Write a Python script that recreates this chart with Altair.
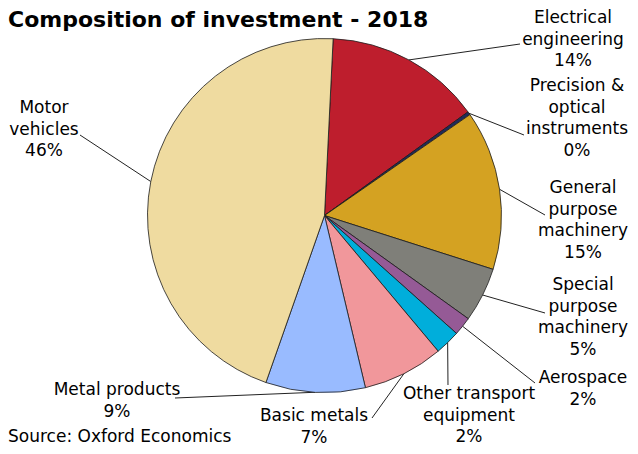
import math
import altair as alt
import numpy as np
import pandas as pd

# ---------------- data ----------------
categories = [
    "Electrical engineering",
    "Precision & optical instruments",
    "General purpose machinery",
    "Special purpose machinery",
    "Aerospace",
    "Other transport equipment",
    "Basic metals",
    "Metal products",
    "Motor vehicles",
]
shares = [14.3, 0.3, 14.6, 5.0, 1.7, 2.3, 7.4, 9.1, 45.5]
pct_labels = ["14%", "0%", "15%", "5%", "2%", "2%", "7%", "9%", "46%"]
label_lines = [
    ["Electrical", "engineering"],
    ["Precision &", "optical", "instruments"],
    ["General", "purpose", "machinery"],
    ["Special", "purpose", "machinery"],
    ["Aerospace"],
    ["Other transport", "equipment"],
    ["Basic metals"],
    ["Metal products"],
    ["Motor", "vehicles"],
]
title_text = "Composition of investment - 2018"
source_text = "Source: Oxford Economics"

# ---------------- styles / layout ----------------
palette = ["#BE1E2D", "#1F2A5C", "#D4A222", "#7F7F79", "#955A96",
           "#00AEDB", "#F1979B", "#99BBFF", "#EFDBA0"]
W, H, M = 638, 454, 8
PW, PH = 622, 438          # plot area size (page x 8..630, y 8..446)
CX, CY, R = 324.5, 215.5, 177
START_DEG = 2.8
LH = 21.5
FONT = "DejaVu Sans"
# label block: centre x, first-line centre y (page px)
label_pos = [(573, 18), (577, 86), (583, 188), (583, 285), (583, 378),
             (469, 394), (314, 416), (117, 390), (44, 108)]
# leader line end near the label (page px)
leader_end = [(520, 44), (524, 135), (545, 215), (545, 313), (535, 383),
              (448, 385), (372, 418), (175, 398), (80, 135)]

# ---------------- derived tables ----------------
vals = np.array(shares, dtype=float)
cum = np.concatenate([[0], np.cumsum(vals)]) / vals.sum() * 360 + START_DEG
mid = (cum[:-1] + cum[1:]) / 2

pie_df = pd.DataFrame({"cat": categories, "share": shares, "idx": range(len(shares))})

rows = []
for i, lines in enumerate(label_lines):
    allines = lines + [pct_labels[i]]
    x0, y0 = label_pos[i]
    for j, t in enumerate(allines):
        rows.append({"x": x0, "y": y0 + j * LH, "t": t})
text_df = pd.DataFrame(rows)

lead_rows = []
for i in range(len(categories)):
    a = math.radians(mid[i])
    lead_rows.append({
        "x": CX + R * math.sin(a), "y": CY - R * math.cos(a),
        "x2": leader_end[i][0], "y2": leader_end[i][1],
    })
lead_df = pd.DataFrame(lead_rows)

xs = alt.Scale(domain=[M, M + PW], nice=False, zero=False)
ys = alt.Scale(domain=[M, M + PH], nice=False, zero=False, reverse=True)

start = math.radians(START_DEG)
pie = alt.Chart(pie_df).mark_arc(
    outerRadius=R, stroke="#1a1a1a", strokeWidth=0.8
).encode(
    theta=alt.Theta("share:Q", stack=True,
                    scale=alt.Scale(range=[start, start + 2 * math.pi])),
    color=alt.Color("cat:N", scale=alt.Scale(domain=categories, range=palette),
                    legend=None),
    order=alt.Order("idx:Q"),
    x=alt.value(CX - M),
    y=alt.value(CY - M),
)

leaders = alt.Chart(lead_df).mark_rule(color="#222222", strokeWidth=1).encode(
    x=alt.X("x:Q", scale=xs, axis=None),
    y=alt.Y("y:Q", scale=ys, axis=None),
    x2="x2:Q",
    y2="y2:Q",
)

labels = alt.Chart(text_df).mark_text(
    font=FONT, fontSize=17, align="center", baseline="middle", color="#000000"
).encode(
    x=alt.X("x:Q", scale=xs, axis=None),
    y=alt.Y("y:Q", scale=ys, axis=None),
    text="t:N",
)

title = alt.Chart(pd.DataFrame({"x": [8], "y": [26.5], "t": [title_text]})).mark_text(
    font=FONT, fontSize=22, fontWeight="bold", align="left",
    baseline="alphabetic", color="#000000"
).encode(
    x=alt.X("x:Q", scale=xs, axis=None),
    y=alt.Y("y:Q", scale=ys, axis=None),
    text="t:N",
)

source = alt.Chart(pd.DataFrame({"x": [8], "y": [437], "t": [source_text]})).mark_text(
    font=FONT, fontSize=17, align="left", baseline="middle", color="#000000"
).encode(
    x=alt.X("x:Q", scale=xs, axis=None),
    y=alt.Y("y:Q", scale=ys, axis=None),
    text="t:N",
)

chart = alt.layer(leaders, pie, labels, title, source).properties(
    width=PW, height=PH, padding=0, autosize="none"
).configure_view(stroke=None)

chart.save("out.html", embed_options={"renderer": "svg", "actions": False})
